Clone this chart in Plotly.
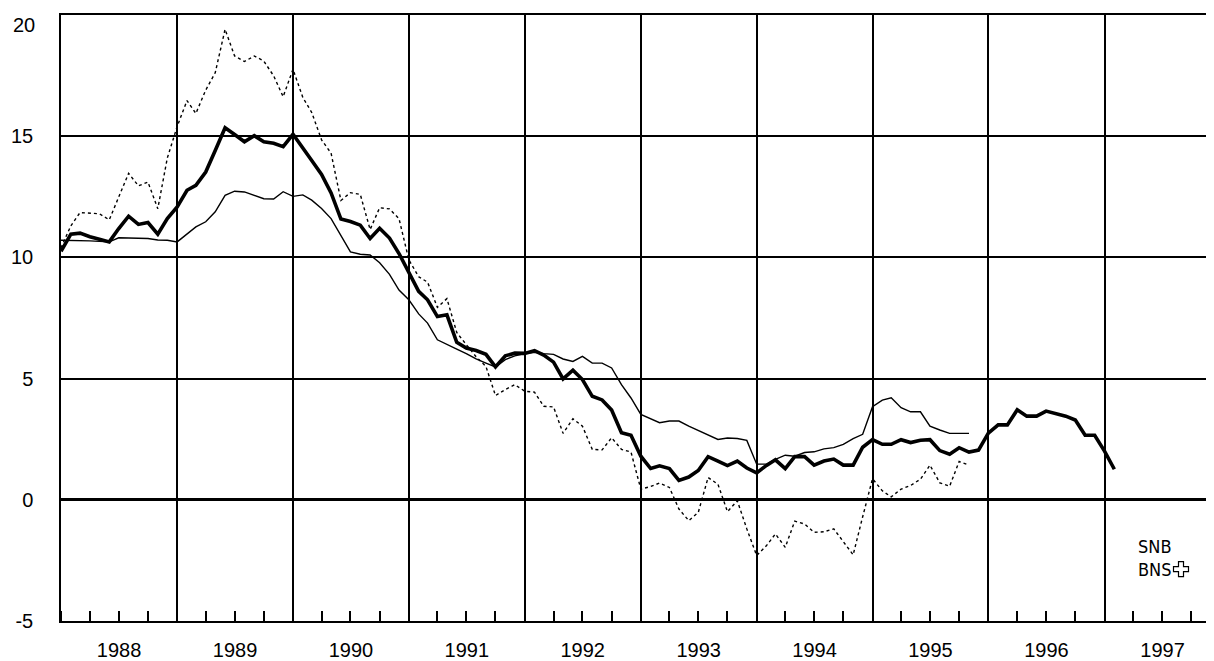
import plotly.graph_objects as go
import pandas as pd

# Monthly values, starting January 1988
thick = [10.25, 10.96, 11.0, 10.85, 10.75, 10.64, 11.19, 11.70, 11.36, 11.44, 10.96, 11.6,
         12.08, 12.77, 12.97, 13.52, 14.41, 15.35, 15.07, 14.77, 15.02, 14.77, 14.71, 14.57,
         15.08, 14.48, 14.0, 13.42, 12.66, 11.58, 11.48, 11.33, 10.78, 11.2, 10.8, 10.16,
         9.41, 8.6, 8.25, 7.56, 7.63, 6.5, 6.26, 6.16, 6.0, 5.48, 5.94, 6.05,
         6.04, 6.15, 5.97, 5.68, 4.99, 5.35, 4.96, 4.27, 4.12, 3.7, 2.77, 2.66,
         1.8, 1.29, 1.4, 1.29, 0.8, 0.94, 1.21, 1.78, 1.6, 1.41, 1.6, 1.31,
         1.11, 1.42, 1.65, 1.29, 1.78, 1.78, 1.43, 1.6, 1.68, 1.43, 1.43, 2.17,
         2.48, 2.29, 2.29, 2.48, 2.36, 2.46, 2.48, 2.03, 1.88, 2.15, 1.97, 2.05,
         2.75, 3.09, 3.09, 3.71, 3.45, 3.45, 3.66, 3.56, 3.45, 3.29, 2.66, 2.66,
         2.01, 1.26]

thin = [10.71, 10.71, 10.71, 10.68, 10.66, 10.64, 10.81, 10.81, 10.78, 10.78, 10.72, 10.71,
        10.64, 10.98, 11.26, 11.47, 11.88, 12.56, 12.73, 12.70, 12.57, 12.42, 12.41, 12.71,
        12.52, 12.58, 12.36, 12.02, 11.6, 10.88, 10.23, 10.13, 10.1, 9.78, 9.3, 8.65,
        8.25, 7.67, 7.29, 6.6, 6.4, 6.22, 6.03, 5.81, 5.64, 5.48, 5.78, 5.94,
        6.03, 6.08, 6.03, 6.0, 5.81, 5.71, 5.92, 5.64, 5.64, 5.44, 4.75, 4.2,
        3.52, 3.34, 3.18, 3.25, 3.25, 3.04, 2.85, 2.68, 2.49, 2.55, 2.53, 2.45,
        1.47, 1.47, 1.67, 1.84, 1.8, 1.95, 1.98, 2.1, 2.15, 2.29, 2.52, 2.70,
        3.84, 4.11, 4.21, 3.8, 3.63, 3.63, 3.04, 2.88, 2.74, 2.74, 2.74]

dotted = [10.4, 11.3, 11.85, 11.82, 11.8, 11.55, 12.5, 13.47, 12.95, 13.11, 12.01, 14.1,
          15.4, 16.47, 15.94, 16.9, 17.62, 19.41, 18.31, 18.08, 18.31, 18.1, 17.49, 16.63,
          17.76, 16.6, 15.98, 14.85, 14.3, 12.35, 12.67, 12.6, 11.15, 12.05, 12.0, 11.6,
          9.9, 9.2, 8.98, 7.94, 8.3, 6.9, 6.4, 5.9, 5.5, 4.3, 4.55, 4.75,
          4.48, 4.44, 3.86, 3.83, 2.74, 3.34, 3.04, 2.08, 2.06, 2.56, 2.08, 1.97,
          0.44, 0.55, 0.69, 0.51, -0.38, -0.86, -0.52, 0.92, 0.64, -0.49, -0.04, -1.2,
          -2.3, -1.89, -1.41, -1.96, -0.88, -1.0, -1.34, -1.32, -1.2, -1.75, -2.27, -0.7,
          0.87, 0.37, 0.12, 0.44, 0.59, 0.85, 1.43, 0.7, 0.56, 1.58, 1.43]

start_month = "1988-01-01"
x_range = ["1988-01-01", "1997-12-12"]
y_ticks = [-5, 0, 5, 10, 15, 20]
y_ticktext = ["-5", "0", "5", "10", "15", "20"]
logo_lines = ["SNB", "BNS"]

def months(n):
    return pd.date_range(start_month, periods=n, freq="MS")

fig = go.Figure()
fig.add_trace(go.Scatter(x=months(len(dotted)), y=dotted, mode="lines",
                         line=dict(color="black", width=1.4, dash="dot"), hoverinfo="skip"))
fig.add_trace(go.Scatter(x=months(len(thin)), y=thin, mode="lines",
                         line=dict(color="black", width=1.4), hoverinfo="skip"))
fig.add_trace(go.Scatter(x=months(len(thick)), y=thick, mode="lines",
                         line=dict(color="black", width=3.6), hoverinfo="skip"))

# The page body adds an 8 px offset; the figure is sized so the plot area lands where the reference has it.
OFF = 8
W, H = 1214 - OFF, 661 - OFF
ML, MR, MT, MB = 61 - OFF, 0, 15 - OFF, 38
PW, PH = W - ML - MR, H - MT - MB

def px2paper(px, py):
    # px, py are screen pixels of the final picture
    return (px - OFF - ML) / PW, (H - MB - (py - OFF)) / PH

font = dict(family="Liberation Sans, Arial, sans-serif", size=20, color="black")

# top tick label (the axis would clip it at the page edge), placed just below the top line as in the reference
fig.add_annotation(x=0, xref="paper", y=y_ticks[-1], yref="y", text=y_ticktext[-1],
                   showarrow=False, xanchor="right", yanchor="middle",
                   xshift=-24, yshift=-10, font=font)

# logo text (one two-line text)
ax, ay = px2paper(1136, 560)
fig.add_annotation(x=ax, y=ay, xref="paper", yref="paper", text="<br>".join(logo_lines),
                   showarrow=False, xanchor="left", yanchor="middle", align="left",
                   font=dict(family="DejaVu Sans Condensed, Liberation Sans Narrow, Liberation Sans",
                             size=18, color="black"))

# outlined cross of the logo
cx, cy, a, b = 1181, 571, 7.5, 2.5
pts = [(-b, -a), (b, -a), (b, -b), (a, -b), (a, b), (b, b), (b, a), (-b, a), (-b, b), (-a, b), (-a, -b), (-b, -b)]
path = ""
for k, (dx, dy) in enumerate(pts):
    px_, py_ = px2paper(cx + dx, cy + dy)
    path += ("M" if k == 0 else "L") + f"{px_:.5f},{py_:.5f} "
path += "Z"
fig.add_shape(type="path", path=path, xref="paper", yref="paper",
              line=dict(color="black", width=1.2), fillcolor="rgba(0,0,0,0)")

fig.update_layout(
    width=W, height=H,
    margin=dict(l=ML, r=MR, t=MT, b=MB, pad=0),
    paper_bgcolor="white", plot_bgcolor="white",
    showlegend=False, font=font,
    xaxis=dict(
        type="date", range=x_range, dtick="M12", tick0="1988-01-01",
        tickformat="%Y", ticklabelmode="period",
        showgrid=True, gridcolor="black", gridwidth=1.5,
        ticks="inside", ticklen=10, tickwidth=1.5, tickcolor="black",
        minor=dict(dtick="M3", ticks="inside", ticklen=10, tickwidth=1.5, tickcolor="black", showgrid=False),
        showline=True, linecolor="black", linewidth=1.5, mirror=True,
        ticklabelstandoff=10, tickfont=font, zeroline=False,
    ),
    yaxis=dict(
        range=[-5, 20], tickvals=y_ticks[:-1], ticktext=y_ticktext[:-1],
        showgrid=True, gridcolor="black", gridwidth=1.5,
        zeroline=True, zerolinecolor="black", zerolinewidth=3,
        showline=True, linecolor="black", linewidth=1.5,
        ticks="", ticklabelstandoff=22, tickfont=font,
    ),
)

fig.write_html("out.html")
